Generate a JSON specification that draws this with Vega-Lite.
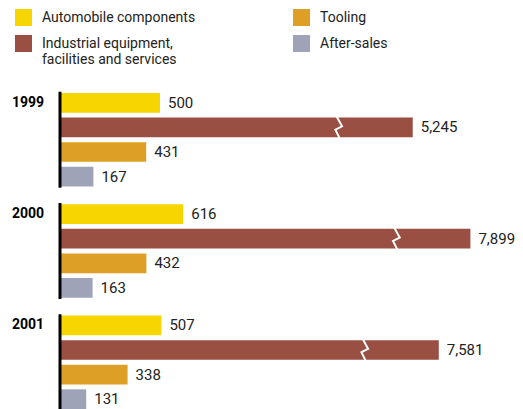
{
  "$schema": "https://vega.github.io/schema/vega-lite/v6.json",
  "width": 463,
  "height": 316,
  "autosize": "none",
  "padding": {"left": 60, "top": 93, "right": 0, "bottom": 0},
  "background": "white",
  "config": {"view": {"stroke": null}, "font": "Roboto"},
  "data": {
    "values": [
      {"year": "1999", "category": "Automobile components", "value": 500},
      {"year": "1999", "category": "Industrial equipment, facilities and services", "value": 5245},
      {"year": "1999", "category": "Tooling", "value": 431},
      {"year": "1999", "category": "After-sales", "value": 167},
      {"year": "2000", "category": "Automobile components", "value": 616},
      {"year": "2000", "category": "Industrial equipment, facilities and services", "value": 7899},
      {"year": "2000", "category": "Tooling", "value": 432},
      {"year": "2000", "category": "After-sales", "value": 163},
      {"year": "2001", "category": "Automobile components", "value": 507},
      {"year": "2001", "category": "Industrial equipment, facilities and services", "value": 7581},
      {"year": "2001", "category": "Tooling", "value": 338},
      {"year": "2001", "category": "After-sales", "value": 131}
    ]
  },
  "encoding": {
    "y": {"field": "year", "type": "nominal", "axis": null, "scale": {"paddingInner": 0.16, "paddingOuter": 0}}
  },
  "layer": [
    {
      "mark": {"type": "bar"},
      "encoding": {
        "x": {"field": "value", "type": "quantitative", "axis": null,
              "scale": {"domain": [0, 650, 5000, 7600, 8000], "range": [0, 130, 350, 379, 421], "nice": false, "zero": false}},
        "yOffset": {"field": "category", "type": "nominal",
                    "sort": ["Automobile components", "Industrial equipment, facilities and services", "Tooling", "After-sales"],
                    "scale": {"paddingInner": 0.2, "paddingOuter": 0}},
        "color": {"field": "category", "type": "nominal",
                  "scale": {"domain": ["Automobile components", "Industrial equipment, facilities and services", "Tooling", "After-sales"],
                            "range": ["#f6d500", "#994f41", "#dd9f25", "#9fa3b7"]},
                  "legend": {"orient": "none", "legendX": -45, "legendY": -84, "columns": 2, "title": null,
                             "symbolType": "square", "symbolSize": 289, "symbolStrokeWidth": 0,
                             "labelFontSize": 14, "labelFont": "Roboto", "labelColor": "#222", "labelLimit": 300,
                             "labelExpr": "datum.label == 'Industrial equipment, facilities and services' ? ['Industrial equipment,', 'facilities and services'] : datum.label",
                             "rowPadding": 9, "columnPadding": 97, "labelOffset": 10, "padding": 0}}
      }
    },
    {
      "mark": {"type": "text", "align": "left", "baseline": "middle", "dx": 8, "fontSize": 15, "color": "#222"},
      "encoding": {
        "x": {"field": "value", "type": "quantitative"},
        "yOffset": {"field": "category", "type": "nominal",
                    "sort": ["Automobile components", "Industrial equipment, facilities and services", "Tooling", "After-sales"]},
        "text": {"field": "value", "type": "quantitative", "format": ","}
      }
    },
    {
      "transform": [{"filter": "datum.category == 'Industrial equipment, facilities and services'"}],
      "mark": {"type": "point", "shape": "M-0.2,-1L0.3,-0.1L-0.3,0.2L0.1,1", "filled": false, "stroke": "white", "strokeWidth": 2, "size": 500, "xOffset": -74, "opacity": 1},
      "encoding": {
        "x": {"field": "value", "type": "quantitative"},
        "yOffset": {"field": "category", "type": "nominal",
                    "sort": ["Automobile components", "Industrial equipment, facilities and services", "Tooling", "After-sales"]}
      }
    },
    {
      "transform": [{"filter": "datum.category == 'Automobile components'"}],
      "mark": {"type": "tick", "orient": "vertical", "thickness": 3, "size": 96, "color": "black", "opacity": 1},
      "encoding": {
        "x": {"datum": 0, "type": "quantitative"}
      }
    },
    {
      "transform": [{"filter": "datum.category == 'Automobile components'"}],
      "mark": {"type": "text", "align": "left", "baseline": "middle", "dx": -48, "fontSize": 14, "fontWeight": "bold", "color": "black"},
      "encoding": {
        "x": {"datum": 0, "type": "quantitative"},
        "yOffset": {"field": "category", "type": "nominal",
                    "sort": ["Automobile components", "Industrial equipment, facilities and services", "Tooling", "After-sales"]},
        "text": {"field": "year", "type": "nominal"}
      }
    }
  ]
}
